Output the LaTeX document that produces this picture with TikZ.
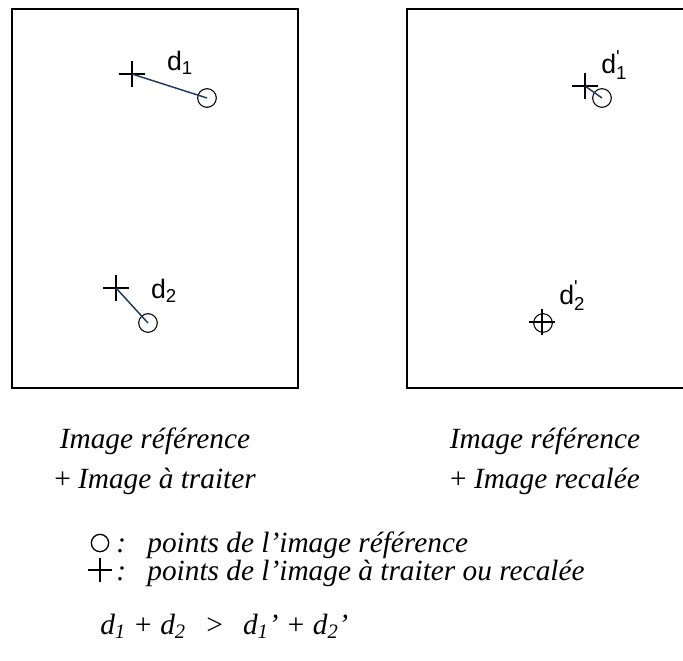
\documentclass[tikz,border=0pt]{standalone}
\usepackage{fontspec}
\setmainfont{Liberation Serif}
\newfontfamily\arial{Liberation Sans}
\usepackage{tikz}
\usetikzlibrary{shapes.misc, positioning, calc}
\newcommand{\primeindice}[1]{\raisebox{-5pt}{\fontsize{14}{12}\selectfont\shortstack[l]{\textquotesingle\\#1}}}

\begin{document}
\begin{tikzpicture}[x=0.75pt, y=-0.75pt,
  cadre/.style={draw=black, line width=1pt},
  pointref/.style={circle, draw=black, line width=0.8pt, minimum size=14pt, inner sep=0pt},
  pointcroix/.style={cross out, rotate=45, draw=black, line width=0.8pt, minimum size=12.5pt, inner sep=0pt},
  lien/.style={line width=1.1pt, color=trait},
  etiq/.style={font=\arial\fontsize{20}{20}\selectfont, text=black, inner sep=0pt},
  legende/.style={font=\fontsize{22}{27}\selectfont\itshape, align=left, inner sep=0pt}]
% --- CORES E LIMITES ---
\definecolor{trait}{HTML}{1F3A5F}
\useasboundingbox (0,0) rectangle (683,661);

% LAYER 1: Os dois quadros
\draw[cadre] (12,9) rectangle (298,388);
\draw[cadre] (407,9) rectangle (690,388);

% LAYER 2: Pontos da imagem esquerda
\node[pointcroix] (p1) at (132,74) {};
\node[pointref] (q1) at (207,98) {};
\node[pointcroix] (p2) at (116,288) {};
\node[pointref] (q2) at (148,323) {};
\draw[lien] (p1.center) -- (q1.center);
\draw[lien] (p2.center) -- (q2.center);
\node[etiq] (d1) at (180,63) {d\textsubscript{1}};
\node[etiq] (d2) at (164,291) {d\textsubscript{2}};

% LAYER 3: Pontos da imagem direita
\node[pointcroix] (r1) at (585,86) {};
\node[pointref] (s1) at (602,98) {};
\node[pointcroix] (r2) at (542,322) {};
\node[pointref] (s2) at (543,323) {};
\draw[lien] (r1.center) -- (s1.center);
\node[etiq] (e1) at (614,65) {d\primeindice{1}};
\node[etiq] (e2) at (572,296) {d\primeindice{2}};

% LAYER 4: Legendas
\node[legende, align=center] (tgauche) at (155,461) {Image référence\\[3pt]\upshape+ \itshape Image à traiter};
\node[legende, align=center] (tdroite) at (545,461) {Image référence\\[3pt]\upshape+ \itshape Image recalée};

\node[pointref, minimum size=13pt, line width=1pt] (symref) at (100,543) {};
\node[legende, anchor=west] (txtref) at (116,545) {:\hspace{16pt}points de l’image référence};
\node[pointcroix, minimum size=12pt, line width=0.8pt] (symcroix) at (100,570) {};
\node[legende, anchor=west] (txtcroix) at (116,573) {:\hspace{16pt}points de l’image à traiter ou recalée};

\node[legende, anchor=west] (ineg) at (100,626) {d\textsubscript{1} + d\textsubscript{2}\hspace{14pt}>\hspace{14pt}d\textsubscript{1}’ + d\textsubscript{2}’};
\end{tikzpicture}
\end{document}
